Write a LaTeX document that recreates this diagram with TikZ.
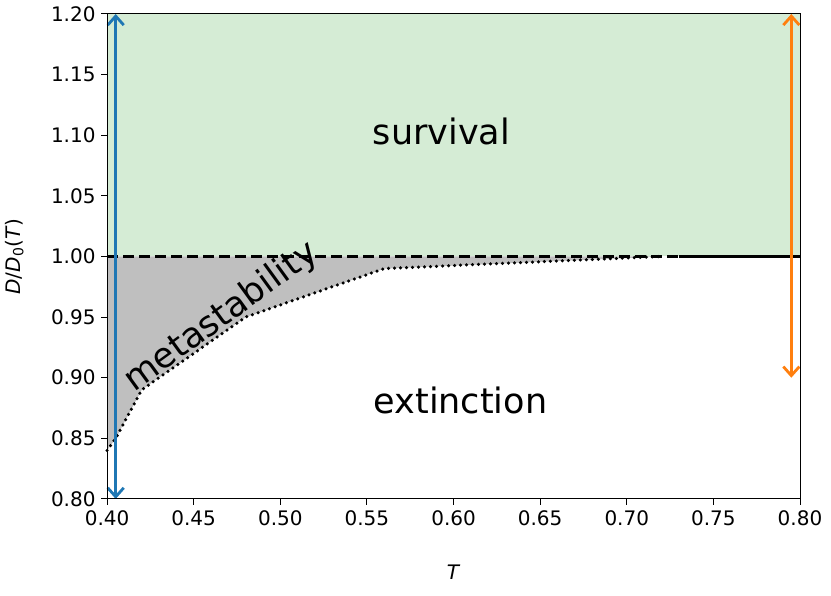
\documentclass[tikz,border=0pt]{standalone}
\usepackage{fontspec}
\setmainfont{DejaVu Sans}
\usetikzlibrary{arrows.meta}
\definecolor{survgreen}{RGB}{213,236,213}
\definecolor{metagray}{RGB}{191,191,191}
\definecolor{tabblue}{RGB}{31,119,180}
\definecolor{taborange}{RGB}{255,127,14}
\tikzset{
  ticklab/.style={font=\fontsize{20}{20}\selectfont},
  regionlab/.style={font=\fontsize{35}{35}\selectfont},
  rangearrow/.style={line width=2.8pt, {Straight Barb[length=9pt,width=16pt]}-{Straight Barb[length=9pt,width=16pt]}}
}
\begin{document}
\begin{tikzpicture}[x=1732.5pt, y=1212.5pt]
\useasboundingbox (0.33819,0.72) rectangle (0.81790,1.21155);
% regions
\fill[survgreen] (0.40,1.00) rectangle (0.80,1.20);
\fill[metagray] (0.40,0.84) -- (0.405,0.85) -- (0.42,0.89) -- (0.48,0.95) -- (0.56,0.99) -- (0.72,1.00) -- (0.40,1.00) -- cycle;
\draw[line width=3.5pt, line cap=round, dash pattern=on 0pt off 6pt] (0.40,0.84) -- (0.405,0.85) -- (0.42,0.89) -- (0.48,0.95) -- (0.56,0.99) -- (0.72,1.00);
\draw[line width=2.4pt, dash pattern=on 11pt off 5pt] (0.40,1.00) -- (0.73,1.00);
\draw[line width=2.4pt] (0.73,1.00) -- (0.80,1.00);
% arrows
\coordinate (bt) at (0.405,1.20);
\coordinate (bb) at (0.405,0.80);
\coordinate (ot) at (0.795,1.20);
\coordinate (ob) at (0.795,0.90);
\draw[rangearrow, tabblue] (bb) -- (bt);
\draw[rangearrow, taborange] (ob) -- (ot);
% labels
\node[regionlab] (surv) at (0.593,1.103) {survival};
\node[regionlab] (ext) at (0.604,0.881) {extinction};
\node[regionlab, rotate=36] (meta) at (0.466,0.950) {metastability};
% axes
\draw[line width=1pt] (0.40,0.80) rectangle (0.80,1.20);
\foreach \t in {0.40,0.45,0.50,0.55,0.60,0.65,0.70,0.75,0.80} {
  \draw[line width=1pt] (\t,0.80) -- ++(0,-6pt);
  \node[ticklab, anchor=north] at ([yshift=-8pt]\t,0.80) {\t};
}
\foreach \d in {0.80,0.85,0.90,0.95,1.00,1.05,1.10,1.15,1.20} {
  \draw[line width=1pt] (0.40,\d) -- ++(-6pt,0);
  \node[ticklab, anchor=east] at ([xshift=-8pt]0.40,\d) {\d};
}
\node[ticklab, anchor=north] (xlab) at ([yshift=-62pt]0.60,0.80) {\textit{T}};
\node[ticklab, rotate=90, anchor=south] (ylab) at ([xshift=-80pt]0.40,1.00) {\textit{D}/\textit{D}\textsubscript{0}(\textit{T})};
\end{tikzpicture}
\end{document}
